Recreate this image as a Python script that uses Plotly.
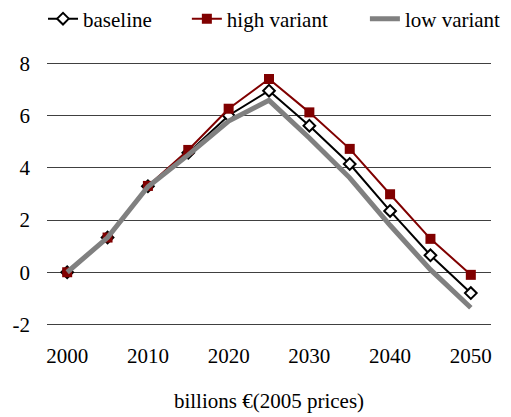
import plotly.graph_objects as go

years = [2000, 2005, 2010, 2015, 2020, 2025, 2030, 2035, 2040, 2045, 2050]
baseline = [0.0, 1.33, 3.3, 4.58, 6.01, 6.96, 5.62, 4.15, 2.35, 0.65, -0.8]
high_variant = [0.0, 1.33, 3.31, 4.69, 6.27, 7.41, 6.13, 4.73, 2.99, 1.28, -0.1]
low_variant = [0.0, 1.33, 3.28, 4.5, 5.8, 6.59, 5.15, 3.62, 1.8, 0.1, -1.36]
y_ticks = [-2, 0, 2, 4, 6, 8]
y_tick_text = ["-2", "0", "2", "4", "6", "8"]
x_ticks = [2000, 2010, 2020, 2030, 2040, 2050]

fig = go.Figure()
fig.add_trace(go.Scatter(
    x=years, y=baseline, name="baseline", mode="lines+markers", legend="legend",
    line=dict(color="#000000", width=2),
    marker=dict(symbol="diamond", size=9, color="#ffffff",
                line=dict(color="#000000", width=2)),
))
fig.add_trace(go.Scatter(
    x=years, y=high_variant, name="high variant", mode="lines+markers", legend="legend2",
    line=dict(color="#800000", width=2),
    marker=dict(symbol="square", size=10, color="#800000"),
))
fig.add_trace(go.Scatter(
    x=years, y=low_variant, name="low variant", mode="lines", legend="legend3",
    line=dict(color="#808080", width=5),
))

font = dict(family="Times New Roman, Liberation Serif, serif", size=21, color="#000000")
leg = dict(orientation="h", xanchor="left", y=1.235, yanchor="top",
           font=font, bgcolor="rgba(0,0,0,0)")
fig.update_layout(
    width=511, height=417,
    margin=dict(l=47, r=20, t=61.4, b=90.4, autoexpand=False),
    paper_bgcolor="#ffffff", plot_bgcolor="#ffffff",
    font=font,
    showlegend=True,
    legend=dict(leg, x=-0.009),
    legend2=dict(leg, x=0.315),
    legend3=dict(leg, x=0.716),
    xaxis=dict(range=[1997.5, 2052.5], tickvals=x_ticks, showgrid=False,
               zeroline=False, showline=False, ticks="", automargin=False,
               ticklabelstandoff=14,
               title=dict(text="billions \u20ac(2005 prices)", font=font, standoff=26)),
    yaxis=dict(range=[-2.1, 8.1], tickvals=y_ticks, ticktext=y_tick_text, showgrid=True,
               gridcolor="#404040", gridwidth=1, zeroline=False, showline=False,
               ticks="", ticklabelstandoff=16, automargin=False),
)
fig.write_html("out.html", config={"displayModeBar": False},
               post_script="document.body.style.margin='0';document.body.style.padding='0';")
